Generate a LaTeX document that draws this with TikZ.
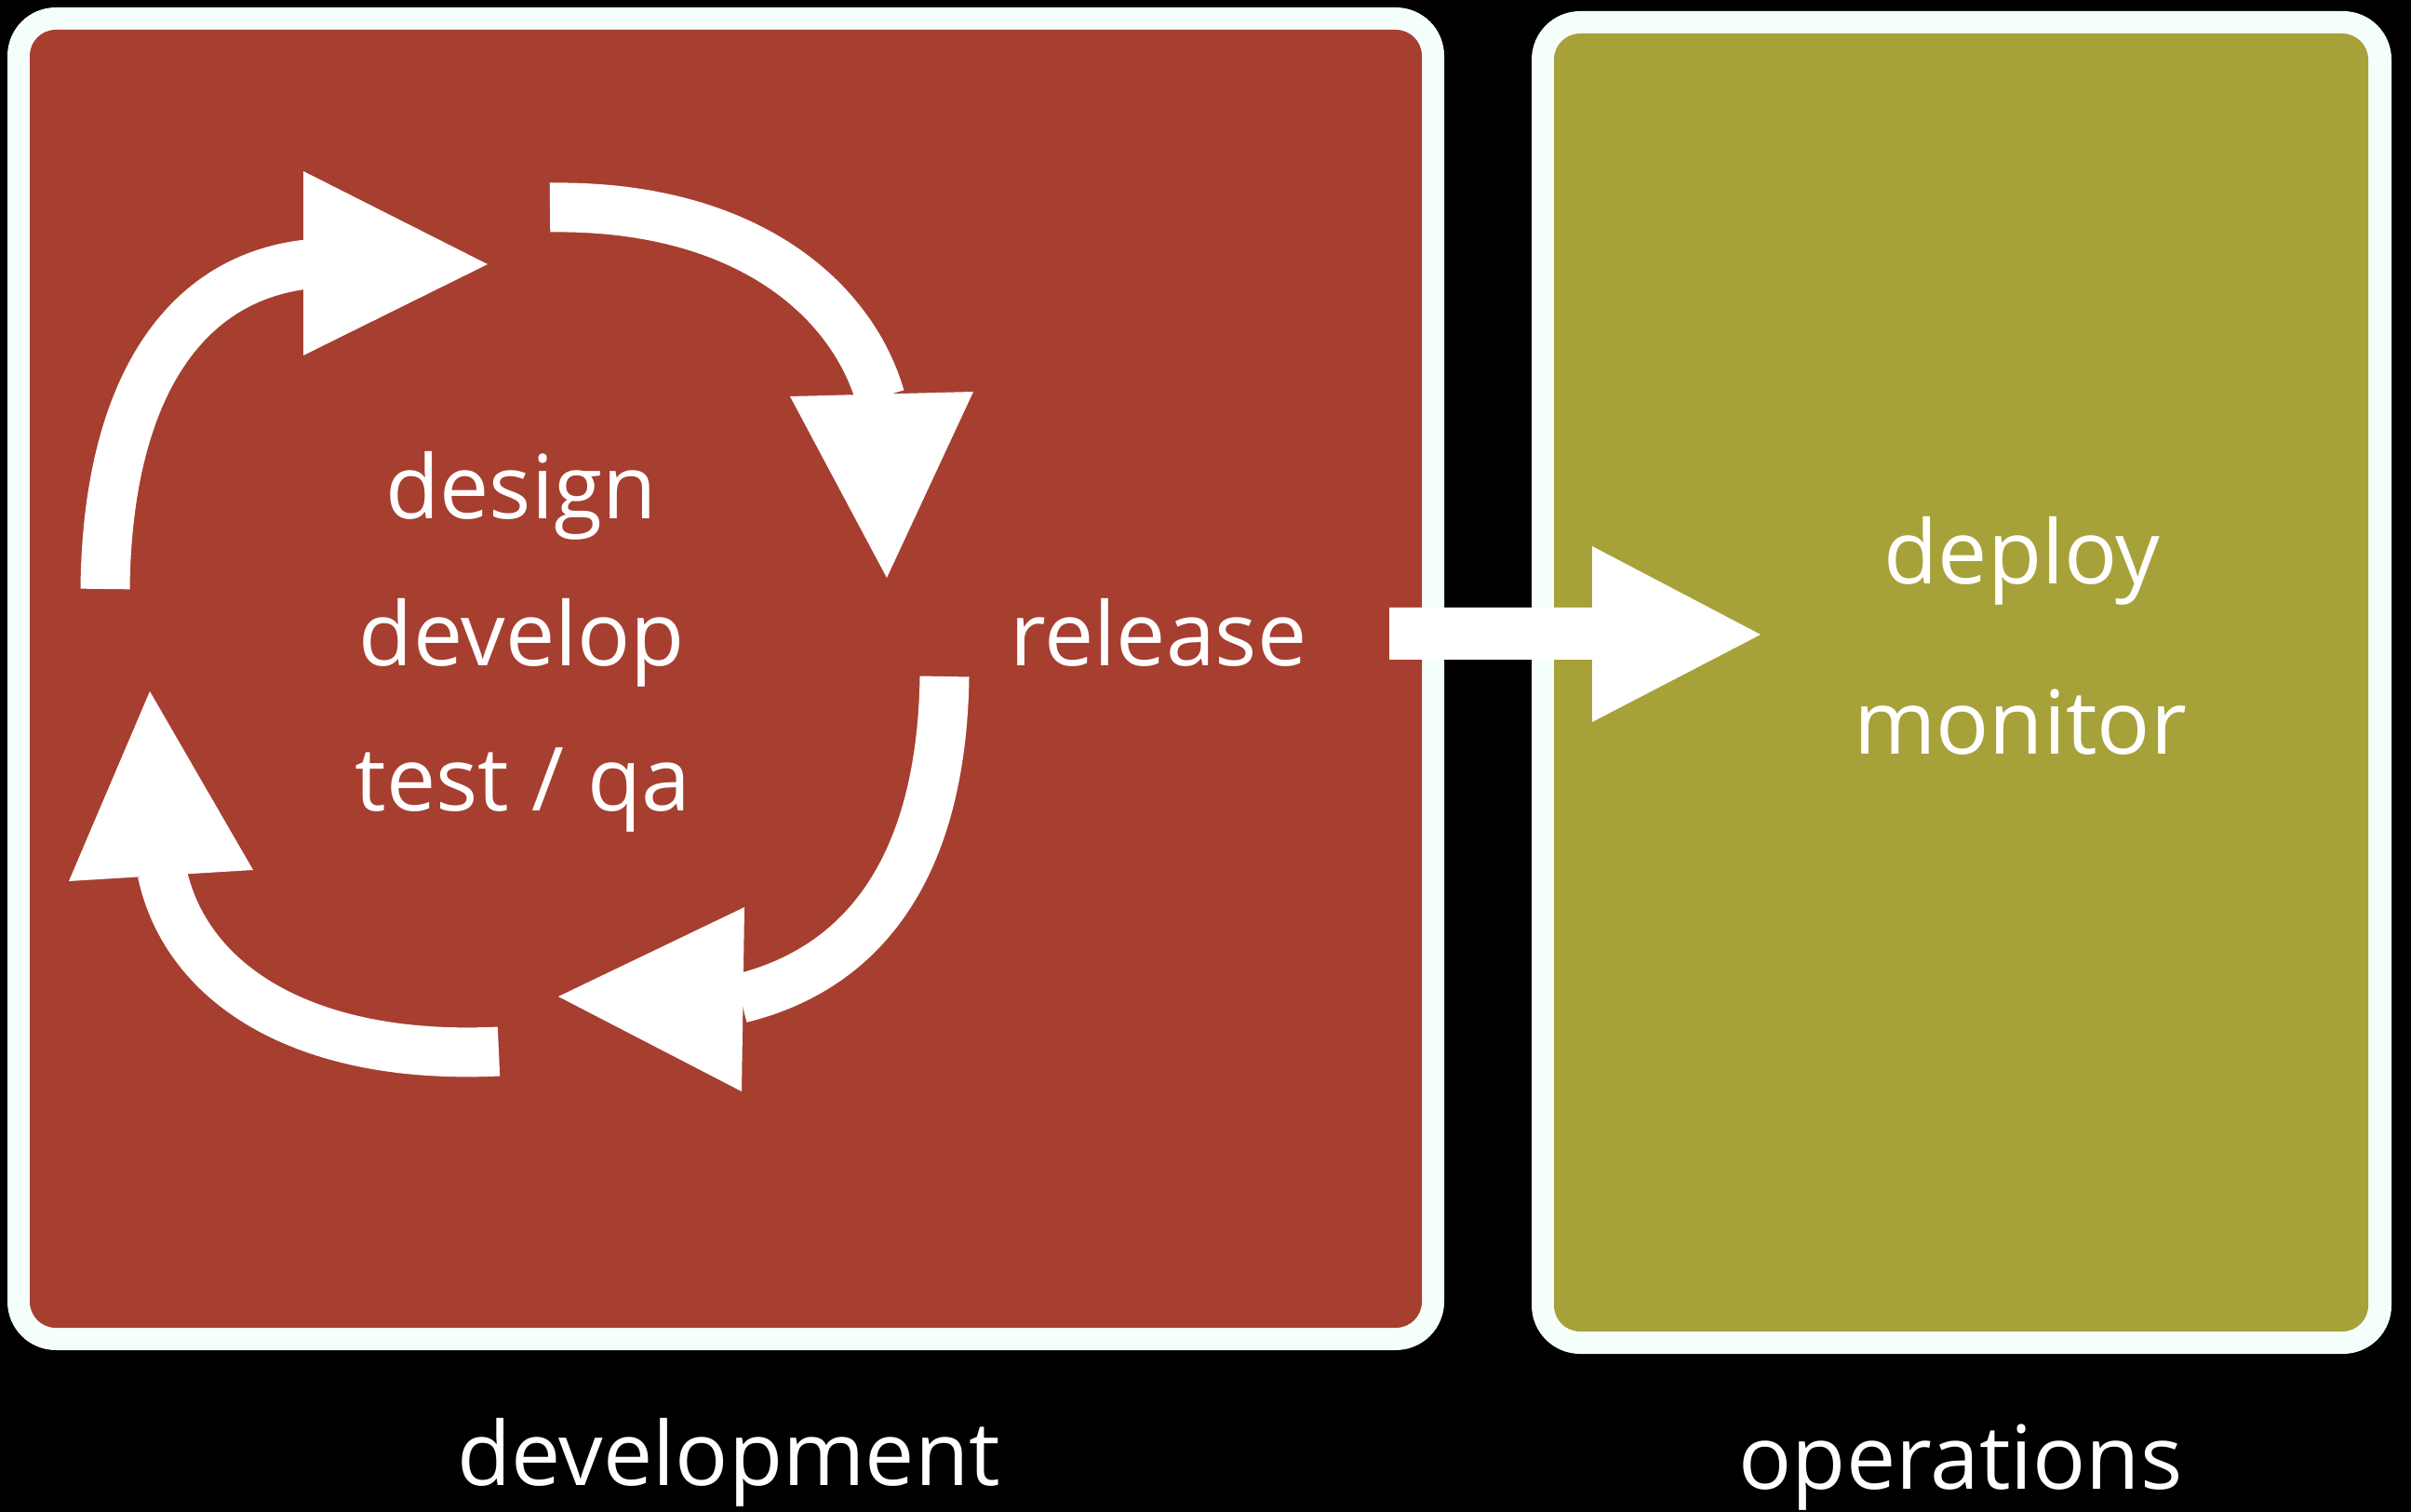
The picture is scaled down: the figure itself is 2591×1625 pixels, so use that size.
\documentclass[tikz,border=0pt]{standalone}
\usepackage{fontspec}
\setmainfont{Open Sans}
\definecolor{devred}{RGB}{166,63,48}
\definecolor{opsgreen}{RGB}{167,161,58}
\definecolor{rimwhite}{RGB}{244,255,252}
\begin{document}
\begin{tikzpicture}[x=0.3pt,y=-0.3pt,
  rim/.style={fill=rimwhite, rounded corners=15.6pt},
  panel/.style={rounded corners=8.4pt},
  lbl/.style={text=white, font=\fontsize{28.5pt}{34pt}\selectfont, anchor=base, inner sep=0pt},
  shaft/.style={draw=white, line width=15.9pt},
  head/.style={fill=white}]
\fill[black] (0,0) rectangle (2591,1625);
\useasboundingbox (0,0) rectangle (2591,1625);
% development box
\fill[rim] (8,8) rectangle (1552,1451);
\fill[panel, fill=devred] (32,32) rectangle (1528,1427);
% operations box
\fill[rim] (1646,12) rectangle (2570,1455);
\fill[panel, fill=opsgreen] (1670,36) rectangle (2545,1431);
% cycle arrows
\draw[shaft] (113,633) .. controls (115,430) and (190,300) .. (330,284);
\fill[head] (326,184) -- (524,284) -- (326,382) -- cycle;
\draw[shaft] (591,223) .. controls (800,220) and (915,320) .. (946,427);
\fill[head] (849,426) -- (1046,421) -- (953,621) -- cycle;
\draw[shaft] (1015,727) .. controls (1012,930) and (930,1040) .. (796,1073);
\fill[head] (800,975) -- (797,1173) -- (600,1071) -- cycle;
\draw[shaft] (536,1130) .. controls (330,1140) and (200,1060) .. (174,937);
\fill[head] (74,947) -- (161,743) -- (272,935) -- cycle;
% labels
\node[lbl] (design) at (560,558) {design};
\node[lbl] (develop) at (561,715) {develop};
\node[lbl] (test) at (562,871) {test / qa};
\node[lbl] (release) at (1245,715) {release};
\node[lbl] (deploy) at (2173,628) {deploy};
\node[lbl] (monitor) at (2171,810) {monitor};
\node[lbl] (devlbl) at (783,1596) {development};
\node[lbl] (opslbl) at (2107,1600) {operations};
% hand-off arrow
\coordinate (hs) at (1493,681);
\coordinate (ht) at (1892,682);
\fill[white] (1493,653) -- (1711,653) -- (1711,587) -- (ht) -- (1711,776) -- (1711,709) -- (1493,709) -- cycle;
\end{tikzpicture}
\end{document}
